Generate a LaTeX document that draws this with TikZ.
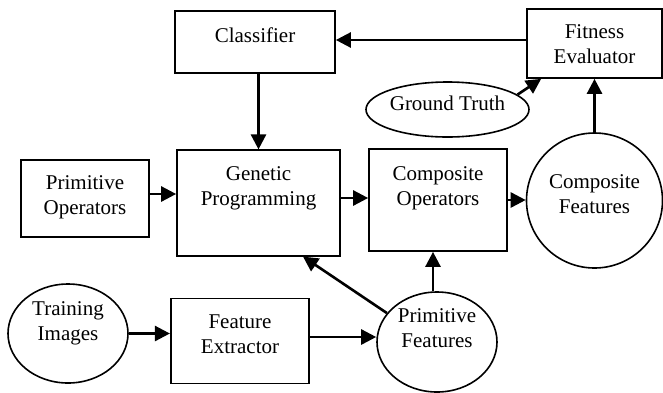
\documentclass[tikz,border=0pt]{standalone}
\usepackage{fontspec}
\setmainfont{Liberation Serif}
\usetikzlibrary{arrows.meta,shapes.geometric,calc}
\begin{document}
\begin{tikzpicture}[x=1pt,y=-1pt,
  box/.style={draw, line width=1.7pt, rectangle, inner sep=0pt},
  oval/.style={draw, line width=1.6pt, ellipse, inner sep=0pt},
  txt/.style={align=center, font=\fontsize{21}{25}\selectfont, inner sep=0pt},
  arr/.style={line width=2.6pt, -{Triangle[length=15pt,width=15pt]}}]
\useasboundingbox (0,0) rectangle (663,392);
% shapes
\node[box, minimum width=160pt, minimum height=62pt, label={[txt,yshift=7pt]center:Classifier}] (cls) at (255,42) {};
\node[box, minimum width=135pt, minimum height=69pt, label={[txt,yshift=-1pt]center:{Fitness\\Evaluator}}] (fe) at (594.5,43.5) {};
\node[oval, minimum width=163pt, minimum height=55pt, label={[txt,yshift=6.5pt]center:{Ground Truth}}] (gt) at (447.5,109.5) {};
\node[box, minimum width=128pt, minimum height=77pt, label={[txt,yshift=1pt]center:{Primitive\\Operators}}] (po) at (85,198.5) {};
\node[box, minimum width=163pt, minimum height=105.5pt, label={[txt,yshift=15pt]center:{Genetic\\Programming}}] (gp) at (258.5,203) {};
\node[box, minimum width=138pt, minimum height=102pt, label={[txt,yshift=12pt]center:{Composite\\Operators}}] (co) at (438,200) {};
\node[oval, minimum width=136pt, minimum height=135pt, label={[txt,yshift=6pt]center:{Composite\\Features}}] (cf) at (594.5,200.5) {};
\node[oval, minimum width=120pt, minimum height=99pt, label={[txt,yshift=10pt]center:{Training\\Images}}] (ti) at (68,333.5) {};
\node[box, minimum width=138.5pt, minimum height=85pt, label={[txt,yshift=7pt]center:{Feature\\Extractor}}] (fx) at (240,341) {};
\node[oval, minimum width=120pt, minimum height=100pt, label={[txt,yshift=13.5pt]center:{Primitive\\Features}}] (pf) at (437,342) {};
% helper coordinates
\coordinate (fecl) at ([yshift=3.5pt]fe.west);
\coordinate (fein) at ([xshift=15pt]fe.south west);
\coordinate (poA) at ([yshift=4.5pt]po.east);
\coordinate (gpA) at ([yshift=5pt]gp.east);
\coordinate (pfco) at ([xshift=-4pt]pf.north);
\coordinate (gpin) at ([xshift=44.5pt]gp.south);
\coordinate (fxpf) at ([yshift=4pt]fx.east);
% connectors
\draw[arr] (fecl) -- (fecl -| cls.east);
\draw[arr] (gp.north |- cls.south) -- (gp.north);
\draw[arr] (gt.12) -- (fein);
\draw[arr] (cf.north) -- (cf.north |- fe.south);
\draw[arr] (poA) -- (poA -| gp.west);
\draw[arr] (gpA) -- (gpA -| co.west);
\draw[arr] (co.east) -- (co.east -| cf.west);
\draw[arr] (pfco) -- (pfco |- co.south);
\draw[arr] (pf.150) -- (gpin);
\draw[arr] (ti) -- (fx.west |- ti);
\draw[arr] (fxpf) -- (fxpf -| pf.west);
\end{tikzpicture}
\end{document}
